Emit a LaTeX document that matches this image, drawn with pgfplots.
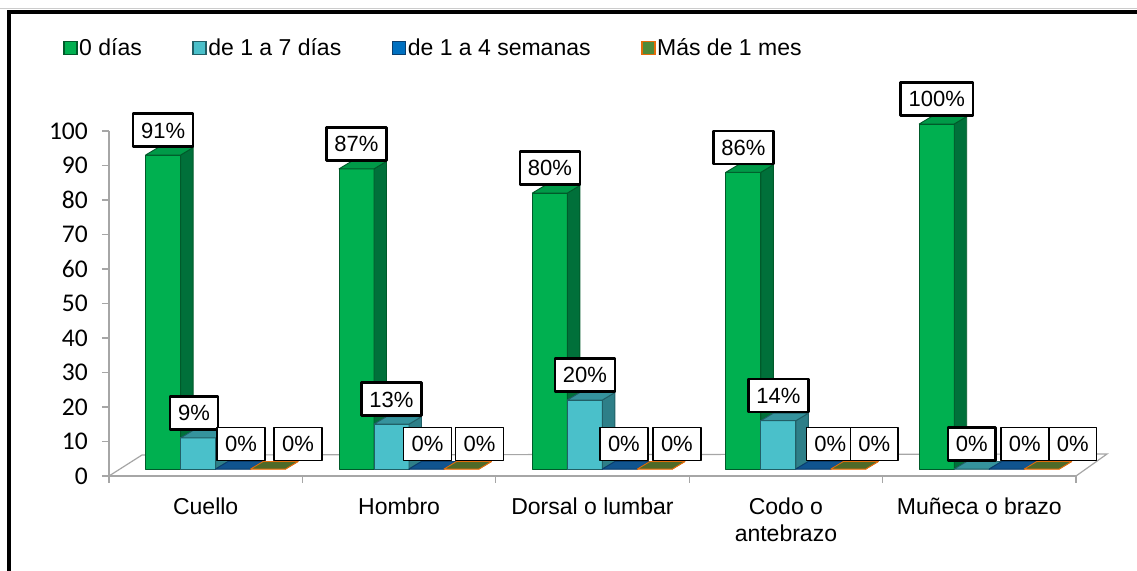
\documentclass[border=0pt]{standalone}
\usepackage{fontspec}
\setmainfont{Liberation Sans}
\newfontfamily\calibri{Carlito}
\usepackage{pgfplots}
\usepackage{pgfplotstable}
\pgfplotsset{compat=1.18}

\definecolor{gFront}{HTML}{00B050}
\definecolor{gSide}{HTML}{00703A}
\definecolor{gTop}{HTML}{009A48}
\definecolor{gEdge}{HTML}{005A2A}
\definecolor{cFront}{HTML}{4AC0CA}
\definecolor{cSide}{HTML}{2E7F88}
\definecolor{cTop}{HTML}{35939D}
\definecolor{cEdge}{HTML}{215F66}
\definecolor{bFront}{HTML}{0070C0}
\definecolor{bSide}{HTML}{0A4A80}
\definecolor{bTop}{HTML}{10548F}
\definecolor{bEdge}{HTML}{0A3E6E}
\definecolor{oFront}{HTML}{4F8A3A}
\definecolor{oSide}{HTML}{3F5F24}
\definecolor{oTop}{HTML}{4F6A28}
\definecolor{oEdge}{HTML}{E46C0A}

% 3d box mark: name, front, side, top, edge, x offset (bp)
\newcommand\declarebox[6]{%
  \pgfdeclareplotmark{#1}{%
    \pgfmathsetmacro\bh{\barval*3.45}%
    \pgfmathsetmacro\xa{#6-17.5}%
    \pgfmathsetmacro\xb{#6+17.5}%
    \pgfmathsetmacro\xc{#6+30}%
    \pgfmathsetmacro\xd{#6-5}%
    \pgfmathsetmacro\yb{7-\bh}%
    \pgfmathsetmacro\ybb{14.5-\bh}%
    \pgfsetlinewidth{0.9bp}\pgfsetroundjoin
    \pgfsetstrokecolor{#5}%
    \pgfsetfillcolor{#2}%
    \pgfpathrectanglecorners{\pgfpoint{\xa bp}{\yb bp}}{\pgfpoint{\xb bp}{7bp}}%
    \pgfusepath{fill,stroke}%
    \pgfsetfillcolor{#3}%
    \pgfpathmoveto{\pgfpoint{\xb bp}{\yb bp}}%
    \pgfpathlineto{\pgfpoint{\xb bp}{7bp}}%
    \pgfpathlineto{\pgfpoint{\xc bp}{14.5bp}}%
    \pgfpathlineto{\pgfpoint{\xc bp}{\ybb bp}}%
    \pgfpathclose
    \pgfusepath{fill,stroke}%
    \pgfsetfillcolor{#4}%
    \pgfpathmoveto{\pgfpoint{\xa bp}{7bp}}%
    \pgfpathlineto{\pgfpoint{\xb bp}{7bp}}%
    \pgfpathlineto{\pgfpoint{\xc bp}{14.5bp}}%
    \pgfpathlineto{\pgfpoint{\xd bp}{14.5bp}}%
    \pgfpathclose
    \pgfusepath{fill,stroke}%
  }}
\declarebox{boxA}{gFront}{gSide}{gTop}{gEdge}{-42.6}
\declarebox{boxB}{cFront}{cSide}{cTop}{cEdge}{-7.6}
\declarebox{boxC}{bFront}{bSide}{bTop}{bEdge}{27.4}
\declarebox{boxD}{oFront}{oSide}{oTop}{oEdge}{62.4}

% x = category, y = value, lx = label shift (bp)
\pgfplotstableread{
x y lx
0 91 0
1 87 0
2 80 0
3 86 0
4 100 0
}\tabA
\pgfplotstableread{
x y lx
0 9 -4
1 13 0
2 20 0
3 14 0
4 0 0
}\tabB
\pgfplotstableread{
x y lx
0 0 8
1 0 1
2 0 4
3 0 17
4 0 18
}\tabC
\pgfplotstableread{
x y lx
0 0 30
1 0 18
2 0 22
3 0 26
4 0 31
}\tabD

\pgfplotsset{
  bar3d/.style n args={5}{% mark, legend fill, edge, offset, label rule
    scatter, only marks, mark=#1, point meta=y,
    scatter/@pre marker code/.code={},
    scatter/@post marker code/.code={},
    visualization depends on={\thisrow{y}\as\barval},
    visualization depends on={\thisrow{lx}\as\labdx},
    nodes near coords={\pgfmathprintnumber{\pgfplotspointmeta}\%},
    every node near coord/.append style={anchor=center, xshift={#4bp+\labdx bp}, yshift=32bp,
      fill=white, draw=black, line width=#5, text=black, inner xsep=8bp, inner ysep=8.5bp,
      text height=16bp, text depth=0bp, font=\fontsize{22bp}{24bp}\selectfont},
    legend image code/.code={\draw[fill=#2, draw=#3, line width=1.5bp] (0bp,-6.5bp) rectangle (13bp,6.5bp);},
  },
}

\begin{document}
\begin{tikzpicture}
\useasboundingbox (0,0) rectangle (1137bp,571bp);
\begin{axis}[
  at={(109bp,95bp)}, anchor=south west,
  x=193.4bp, y=3.45bp,
  xmin=-0.5, xmax=4.5, ymin=0, ymax=100,
  clip=false,
  axis lines*=left,
  axis line style={gray!70, line width=1.2bp},
  tick align=outside,
  major tick length=7bp,
  tick style={gray!70, line width=1.2bp},
  ytick={0,10,...,100},
  yticklabel style={font=\calibri\fontsize{25.5bp}{27bp}\selectfont, inner sep=0pt, anchor=east, xshift=-14bp},
  /pgf/number format/assume math mode=true,
  xtick={-0.5,0.5,...,4.5},
  x tick label as interval,
  xticklabels={Cuello, Hombro, Dorsal o lumbar, {Codo o\\antebrazo}, Muñeca o brazo},
  xticklabel style={align=center, font=\fontsize{23bp}{27bp}\selectfont, inner sep=0pt, anchor=north, yshift=-14.5bp},
  legend columns=4,
  legend style={at={(-0.0476,1.2406)}, anchor=west, draw=none, fill=none, inner sep=0pt,
    font=\fontsize{23bp}{25bp}\selectfont, nodes={inner sep=1.5bp},
    /tikz/every even column/.append style={column sep=49bp}},
]
\draw[gray!70, line width=1.2bp] (axis cs:-0.5,0) -- ([xshift=33bp,yshift=21bp]axis cs:-0.5,0)
  -- ([xshift=31bp,yshift=22bp]axis cs:4.5,0) -- (axis cs:4.5,0);
\addplot[bar3d={boxA}{gFront}{gEdge}{-42.6}{2.5bp}] table[x=x,y=y] {\tabA};
\addlegendentry{0 días}
\addplot[bar3d={boxB}{cFront}{cEdge}{-7.6}{2.5bp}] table[x=x,y=y] {\tabB};
\addlegendentry{de 1 a 7 días}
\addplot[bar3d={boxC}{bFront}{bEdge}{27.4}{1.5bp}] table[x=x,y=y] {\tabC};
\addlegendentry{de 1 a 4 semanas}
\addplot[bar3d={boxD}{oFront}{oEdge}{62.4}{1.5bp}] table[x=x,y=y] {\tabD};
\addlegendentry{Más de 1 mes}
\end{axis}
\draw[gray!40, line width=1bp] (0bp,562bp) -- (1137bp,562bp);
\draw[line width=3.5bp] (9bp,-5bp) -- (9bp,559bp) -- (1145bp,559bp);
\end{tikzpicture}
\end{document}
